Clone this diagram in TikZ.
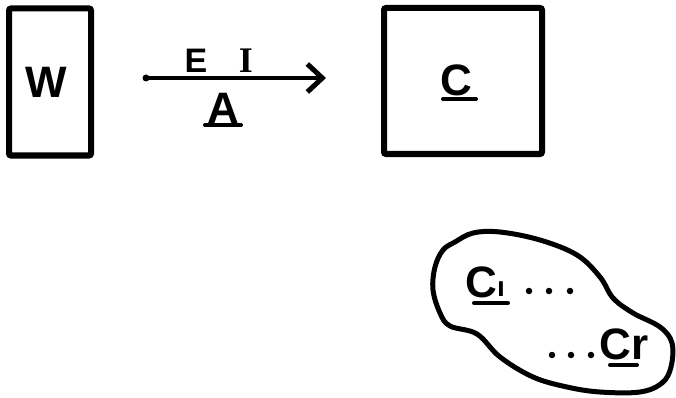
\documentclass[tikz,border=0pt]{standalone}
\usepackage{fontspec}
\setmainfont{Liberation Sans}
\newfontfamily\serifbar{Liberation Serif}
\usetikzlibrary{arrows.meta}
\tikzset{
  boxstyle/.style={draw, line width=6pt, rounded corners=2pt, inner sep=0pt},
  lbl/.style={font=\bfseries\fontsize{44}{44}\selectfont, inner sep=0pt},
  smalllbl/.style={font=\bfseries\fontsize{34}{34}\selectfont, inner sep=0pt},
  ul/.style={line width=4pt, line cap=round},
  blobline/.style={line width=5pt},
  dotstyle/.style={fill, circle, inner sep=0pt, minimum size=6.5pt}
}
\begin{document}
\begin{tikzpicture}[x=1pt, y=-1pt]
\useasboundingbox (0,0) rectangle (676,398);
% boxes
\node[boxstyle, minimum width=82pt, minimum height=147pt] (wbox) at (50,82) {};
\node[boxstyle, minimum width=158pt, minimum height=146pt] (cbox) at (463,81) {};
\node[lbl] (w) at (46,82) {W};
\node[lbl] (c) at (456,80) {C};
\draw[ul] (443,99) -- (476,99);
% arrow
\coordinate (astart) at (146,78);
\coordinate (aend) at (326,78);
\fill (astart) circle (3.5pt);
\draw[line width=4.5pt, -{Straight Barb[length=15pt, width=28pt, line width=5pt]}] (astart) -- (aend);
\node[smalllbl] (e) at (196,61) {E};
\node[font=\serifbar\bfseries\fontsize{36}{36}\selectfont, inner sep=0pt] (i) at (246,61) {I};
\node[lbl] (a) at (223,108) {A};
\draw[ul] (205,125) -- (241,125);
% blob
\draw[blobline] plot[smooth cycle, tension=0.6] coordinates {
  (455,242) (473,233) (500,232) (540,240) (577,255) (600,277) (613,298)
  (633,313) (660,327) (672,343) (671,367) (662,383) (640,392) (600,392)
  (567,387) (533,377) (500,357) (477,334) (450,326) (440,313) (433,290)
  (435,267) (443,250)};
\node[lbl, anchor=base] (c1) at (481,297) {C};
\node[font=\bfseries\fontsize{28}{28}\selectfont, inner sep=0pt, anchor=base] (one) at (501,296) {ı};
\draw[ul] (474,303) -- (508,303);
\node[dotstyle] (d1) at (529,291) {};
\node[dotstyle] (d2) at (549,291) {};
\node[dotstyle] (d3) at (570,291) {};
\node[dotstyle] (d4) at (552,355) {};
\node[dotstyle] (d5) at (571,355) {};
\node[dotstyle] (d6) at (591,355) {};
\node[lbl, anchor=base] (cr) at (624,359) {Cr};
\draw[ul] (610,365) -- (637,365);
\end{tikzpicture}
\end{document}
